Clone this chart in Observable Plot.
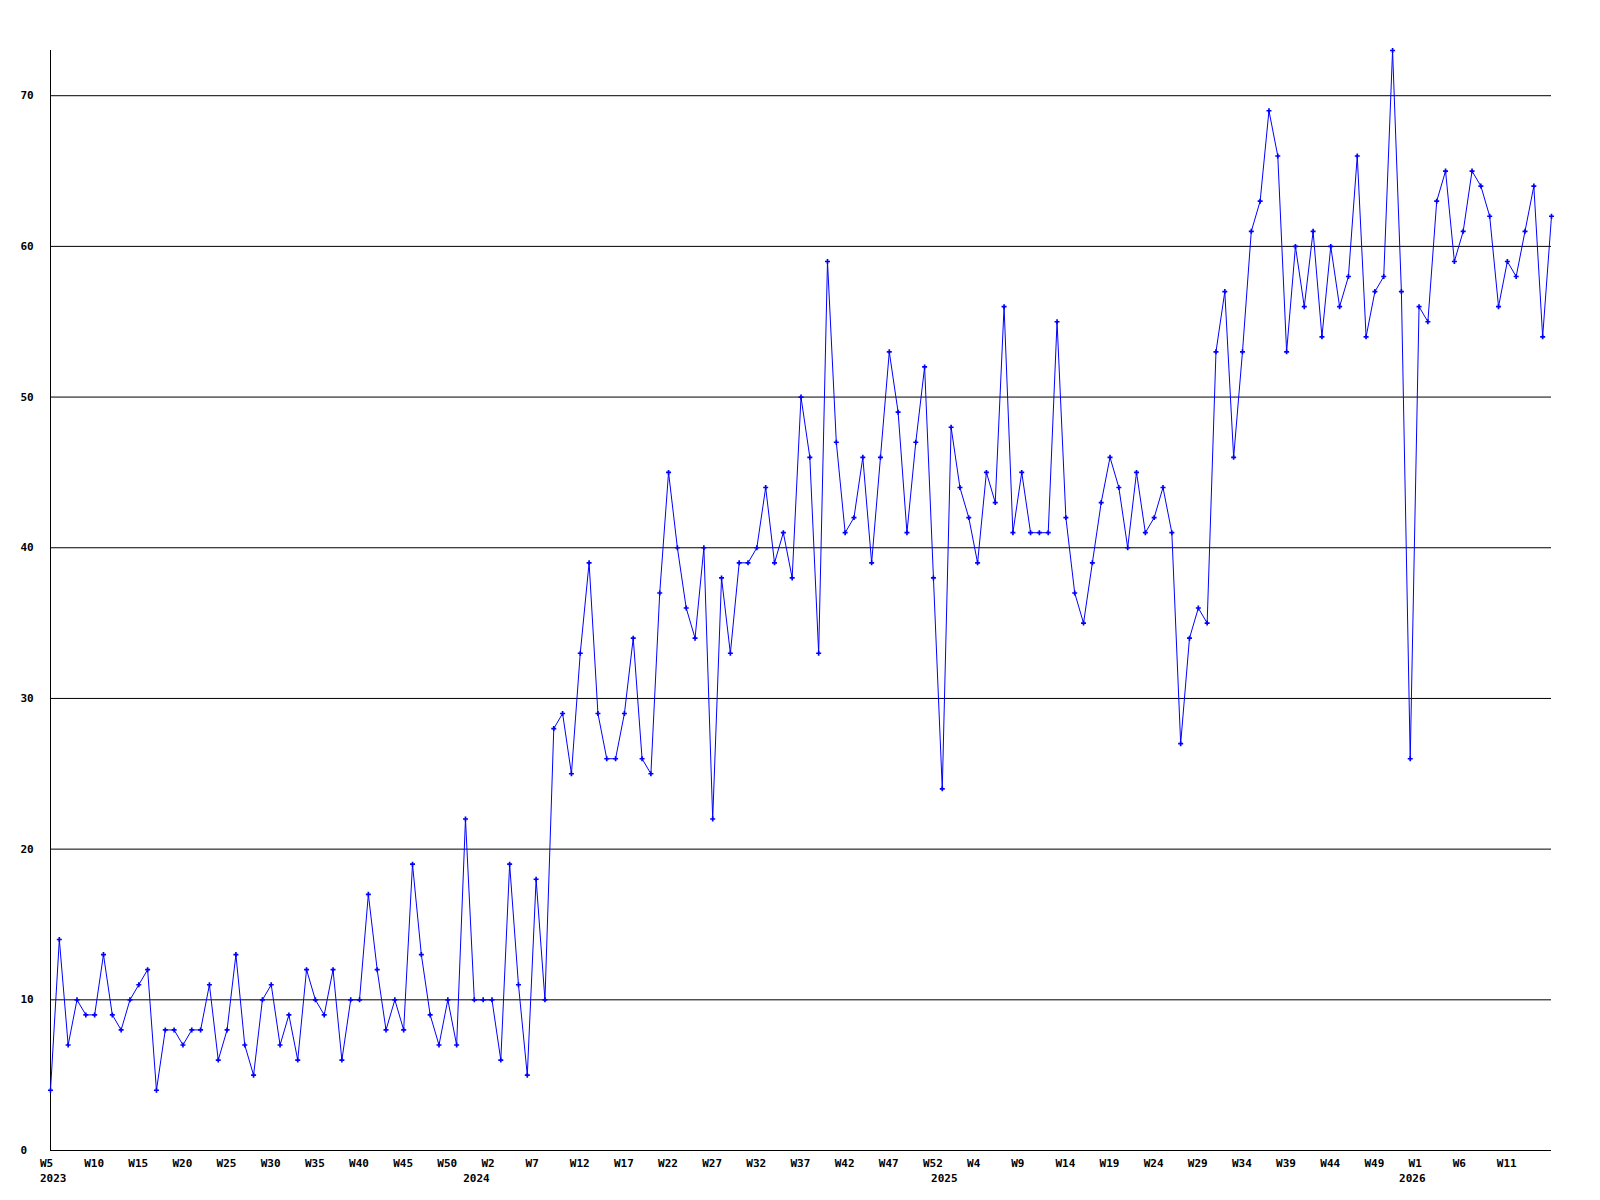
<!DOCTYPE html>
<html>
<head>
<meta charset="utf-8">
<script src="https://cdn.jsdelivr.net/npm/d3@7"></script>
<script src="https://cdn.jsdelivr.net/npm/@observablehq/plot@0.6"></script>
<style>
  html, body { margin: 0; padding: 0; background: #ffffff; }
  #chart svg { display: block; }
</style>
</head>
<body>
<div id="chart"></div>
<script>
// ---- data (weekly counts) ----
const years = [2023, 2024, 2025, 2026];
const firstWeeks = [5, 1, 1, 1];

const values2023 = [4, 14, 7, 10, 9, 9, 13, 9, 8, 10,
                    11, 12, 4, 8, 8, 7, 8, 8, 11, 6,
                    8, 13, 7, 5, 10, 11, 7, 9, 6, 12,
                    10, 9, 12, 6, 10, 10, 17, 12, 8, 10,
                    8, 19, 13, 9, 7, 10, 7, 22, 10];
const values2024 = [10, 10, 6, 19, 11, 5, 18, 10, 28, 29,
                    25, 33, 39, 29, 26, 26, 29, 34, 26, 25,
                    37, 45, 40, 36, 34, 40, 22, 38, 33, 39,
                    39, 40, 44, 39, 41, 38, 50, 46, 33, 59,
                    47, 41, 42, 46, 39, 46, 53, 49, 41, 47,
                    52, 38, 24];
const values2025 = [48, 44, 42, 39, 45, 43, 56, 41, 45, 41,
                    41, 41, 55, 42, 37, 35, 39, 43, 46, 44,
                    40, 45, 41, 42, 44, 41, 27, 34, 36, 35,
                    53, 57, 46, 53, 61, 63, 69, 66, 53, 60,
                    56, 61, 54, 60, 56, 58, 66, 54, 57, 58,
                    73, 57, 26];
const values2026 = [56, 55, 63, 65, 59, 61, 65, 64, 62, 56,
                    59, 58, 61, 64, 54, 62];

const yTicks = [0, 10, 20, 30, 40, 50, 60, 70];
const yMax = 73;
const tickEvery = 5;

// ---- build table ----
const seriesByYear = [values2023, values2024, values2025, values2026];
const data = [];
seriesByYear.forEach((vals, yi) => {
  vals.forEach((v, k) => {
    data.push({ i: data.length, year: years[yi], week: firstWeeks[yi] + k, value: v, first: k === 0 });
  });
});
const lastIndex = data.length - 1;
const xTicks = data.filter(d => d.i % tickEvery === 0 && d.i < lastIndex);
const yearStarts = data.filter(d => d.first);
const firstYear = yearStarts.filter(d => d.i === 0);
const laterYears = yearStarts.filter(d => d.i !== 0);

const font = "'DejaVu Sans Mono', 'Liberation Mono', monospace";

const chart = Plot.plot({
  width: 1600,
  height: 1200,
  marginLeft: 50,
  marginRight: 49,
  marginTop: 50,
  marginBottom: 50,
  x: { domain: [0, lastIndex], axis: null },
  y: { domain: [0, yMax], axis: null },
  style: { fontFamily: font, fontSize: "11px", fontWeight: "bold", background: "#ffffff", color: "#000000" },
  marks: [
    Plot.ruleY(yTicks.filter(t => t > 0), { stroke: "#000000", strokeWidth: 1 }),
    Plot.ruleY([0], { stroke: "#000000", strokeWidth: 1 }),
    Plot.ruleX([0], { stroke: "#000000", strokeWidth: 1 }),
    Plot.line(data, { x: "i", y: "value", stroke: "#0000ff", strokeWidth: 1 }),
    Plot.dot(data, { x: "i", y: "value", symbol: "cross", fill: "#0000ff", r: 2.1 }),
    Plot.text(yTicks, { x: 0, y: d => d, text: d => String(d), textAnchor: "start", dx: -30,
      fill: "#000000", fontFamily: font, fontSize: 11, fontWeight: "bold" }),
    Plot.text(xTicks, { x: "i", y: 0, text: d => "W" + d.week, textAnchor: "start", dx: -10.5, dy: 12.5,
      fill: "#000000", fontFamily: font, fontSize: 11, fontWeight: "bold" }),
    Plot.text(firstYear, { x: "i", y: 0, text: d => String(d.year), textAnchor: "start", dx: -10.5, dy: 27.5,
      fill: "#000000", fontFamily: font, fontSize: 11, fontWeight: "bold" }),
    Plot.text(laterYears, { x: "i", y: 0, text: d => String(d.year), textAnchor: "start", dx: -20, dy: 27.5,
      fill: "#000000", fontFamily: font, fontSize: 11, fontWeight: "bold" })
  ]
});
document.getElementById("chart").appendChild(chart);
</script>
</body>
</html>
